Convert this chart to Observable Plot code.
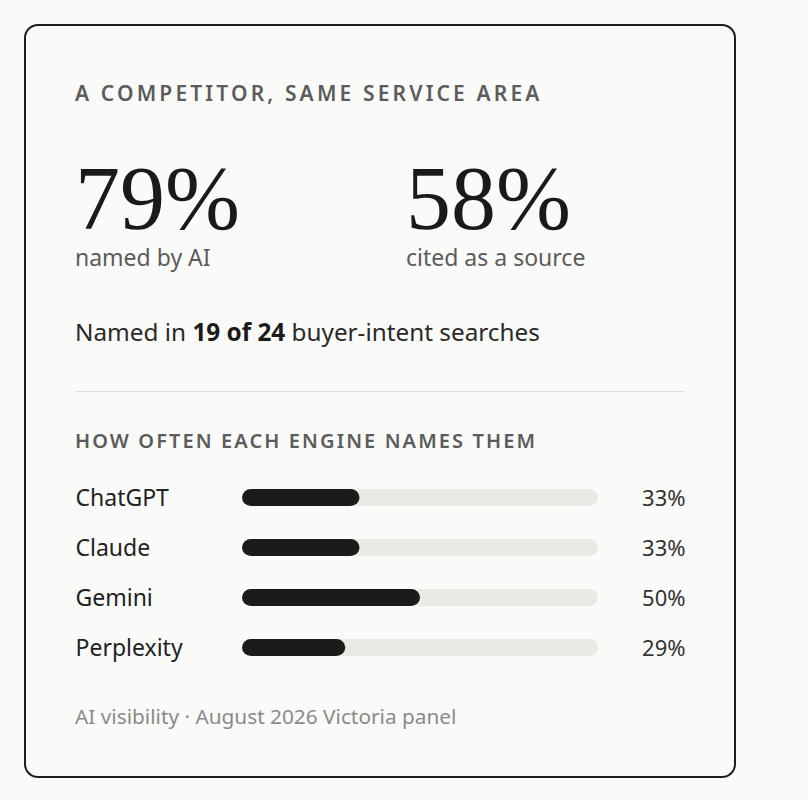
<!DOCTYPE html>
<html>
<head>
<meta charset="utf-8">
<script src="https://cdn.jsdelivr.net/npm/d3@7"></script>
<script src="https://cdn.jsdelivr.net/npm/@observablehq/plot@0.6"></script>
<style>
  html, body { margin: 0; padding: 0; background: #fafaf8; }
  body { width: 808px; height: 800px; position: relative; overflow: hidden; font-family: "Noto Sans", sans-serif; }
  .card { position: absolute; left: 24px; top: 24px; width: 712px; height: 754px; box-sizing: border-box;
          border: 2px solid #1d1d1d; border-radius: 14px; background: #fafaf8; }
  .t { position: absolute; left: 75px; line-height: 1; white-space: nowrap; }
  .title { font-size: 21px; font-weight: 600; letter-spacing: 3.15px; color: #5c5c5c; top: 83.4px; }
  .big { font-family: "Liberation Serif", serif; font-size: 90px; line-height: 0.8; color: #1a1a1a; top: 162.6px; }
  .sub { font-size: 23px; color: #5c5c5c; top: 245.6px; }
  .named { font-size: 24.3px; color: #2a2a2a; top: 320.4px; }
  .named b { font-weight: 700; color: #1a1a1a; }
  .rule { position: absolute; left: 75px; top: 390.8px; width: 610px; height: 1.5px; background: #e2e1dd; }
  .section { font-size: 20px; font-weight: 600; letter-spacing: 2.1px; color: #5c5c5c; top: 431.2px; }
  .caption { font-size: 20.8px; color: #8a8a8a; top: 705.5px; }
  #bars { position: absolute; left: 75px; top: 470.75px; }
</style>
</head>
<body>
<div class="card"></div>
<div id="root"></div>
<div id="bars"></div>
<script>
const heading = "A COMPETITOR, SAME SERVICE AREA";
const statValues = ["79%", "58%"];
const statLabels = ["named by AI", "cited as a source"];
const namedCount = "19 of 24";
const sectionTitle = "HOW OFTEN EACH ENGINE NAMES THEM";
const engines = ["ChatGPT", "Claude", "Gemini", "Perplexity"];
const shares = [33, 33, 50, 29];
const shareLabels = ["33%", "33%", "50%", "29%"];
const caption = "AI visibility · August 2026 Victoria panel";

const root = document.getElementById("root");
function addText(cls, html, left) {
  const d = document.createElement("div");
  d.className = "t " + cls;
  d.innerHTML = html;
  if (left != null) d.style.left = left + "px";
  root.appendChild(d);
  return d;
}
addText("title", heading);
const statLefts = [75, 406];
statValues.forEach((v, i) => {
  addText("big", v, statLefts[i]);
  addText("sub", statLabels[i], statLefts[i]);
});
addText("named", "Named in <b>" + namedCount + "</b> buyer-intent searches");
const rule = document.createElement("div"); rule.className = "rule"; root.appendChild(rule);
addText("section", sectionTitle);
addText("caption", caption);

const data = engines.map((e, i) => ({engine: e, share: shares[i], label: shareLabels[i]}));

const chart = Plot.plot({
  width: 610,
  height: 204,
  margin: 0,
  x: {domain: [0, 100], range: [167, 523], axis: null},
  y: {domain: engines, range: [0, 203.6], paddingInner: 0.652, paddingOuter: 0.326, axis: null},
  style: {background: "transparent", fontFamily: "'Noto Sans', sans-serif", overflow: "visible"},
  marks: [
    Plot.barX(data, {y: "engine", x1: () => 0, x2: () => 100, fill: "#ebe9e4", rx: 9}),
    Plot.barX(data, {y: "engine", x1: () => 0, x2: "share", fill: "#1b1b1b", rx: 9}),
    Plot.text(data, {y: "engine", text: "engine", frameAnchor: "left", textAnchor: "start", fontSize: 23, fill: "#222", dy: 1}),
    Plot.text(data, {y: "engine", text: "label", frameAnchor: "right", textAnchor: "end", fontSize: 22, fill: "#333", dy: 1})
  ]
});
document.getElementById("bars").appendChild(chart);
</script>
</body>
</html>
